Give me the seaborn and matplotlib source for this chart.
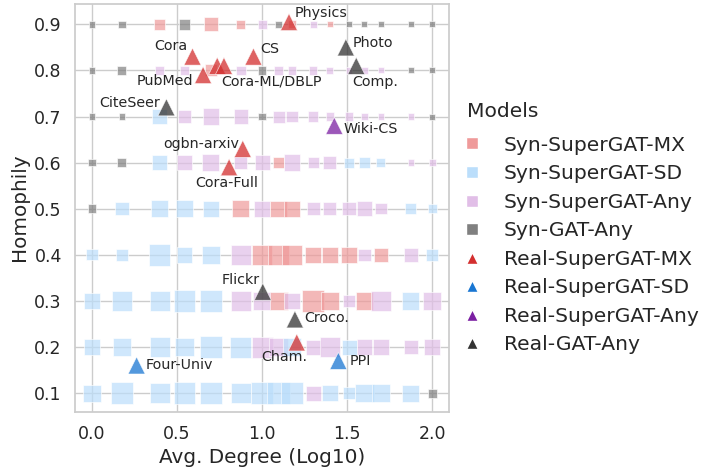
import numpy as np
import pandas as pd
import seaborn as sns
import matplotlib.pyplot as plt
from matplotlib.lines import Line2D

# Synthetic graphs: average degree (x, log10) and homophily rows
avg_degree = [1, 1.5, 2.5, 3.5, 5, 7.5, 10, 12.5, 15, 20, 25, 32.5, 40, 50, 75, 100]
homophily_levels = [0.9, 0.8, 0.7, 0.6, 0.5, 0.4, 0.3, 0.2, 0.1]

# Best model per synthetic graph (X=SuperGAT-MX, S=SuperGAT-SD, A=SuperGAT-Any, G=GAT-Any)
best_h09 = ["G", "G", "X", "G", "X", "X", "A", "G", "X", "A", "X", "G", "G", "G", "G", "G"]
best_h08 = ["G", "G", "A", "A", "X", "A", "G", "A", "A", "A", "A", "A", "A", "A", "G", "G"]
best_h07 = ["G", "G", "S", "A", "A", "A", "G", "A", "A", "A", "A", "A", "A", "A", "A", "G"]
best_h06 = ["G", "G", "S", "A", "A", "A", "A", "X", "A", "A", "A", "S", "S", "S", "A", "A"]
best_h05 = ["G", "S", "S", "S", "S", "X", "A", "X", "X", "A", "A", "A", "A", "A", "S", "S"]
best_h04 = ["S", "S", "S", "S", "S", "A", "X", "X", "X", "X", "X", "X", "A", "X", "A", "S"]
best_h03 = ["S", "S", "S", "S", "S", "A", "A", "X", "A", "X", "X", "A", "X", "A", "S", "A"]
best_h02 = ["S", "S", "S", "S", "S", "S", "A", "A", "S", "A", "A", "S", "A", "A", "A", "A"]
best_h01 = ["S", "S", "S", "S", "S", "S", "S", "S", "S", "A", "S", "S", "S", "S", "S", "G"]

# Performance margin of the best model (encoded by marker size)
gap_h09 = [18, 20, 28, 28, 38, 24, 24, 20, 22, 18, 16, 16, 16, 16, 16, 16]
gap_h08 = [18, 24, 24, 24, 32, 26, 22, 26, 22, 22, 18, 18, 18, 16, 16, 16]
gap_h07 = [18, 18, 40, 34, 44, 38, 20, 32, 30, 28, 22, 22, 20, 18, 18, 16]
gap_h06 = [20, 24, 40, 42, 46, 34, 40, 30, 44, 30, 34, 26, 30, 24, 18, 18]
gap_h05 = [24, 36, 46, 46, 42, 46, 44, 44, 42, 34, 36, 36, 40, 30, 30, 24]
gap_h04 = [30, 32, 58, 42, 50, 54, 54, 54, 52, 42, 44, 42, 34, 38, 36, 34]
gap_h03 = [42, 54, 54, 58, 58, 54, 50, 48, 44, 60, 48, 34, 48, 52, 46, 50]
gap_h02 = [42, 46, 54, 50, 60, 56, 56, 50, 46, 40, 54, 40, 42, 44, 36, 44]
gap_h01 = [46, 58, 54, 58, 60, 54, 60, 60, 60, 40, 44, 34, 50, 50, 46, 24]

# Real-world datasets
real_names = ["Physics", "Cora", "CS", "Cora-ML", "DBLP", "PubMed", "Photo", "Comp.",
              "CiteSeer", "Wiki-CS", "ogbn-arxiv", "Cora-Full", "Flickr", "Croco.",
              "Cham.", "Four-Univ", "PPI"]
real_labels = ["Physics", "Cora", "CS", "Cora-ML/DBLP", "", "PubMed", "Photo", "Comp.",
               "CiteSeer", "Wiki-CS", "ogbn-arxiv", "Cora-Full", "Flickr", "Croco.",
               "Cham.", "Four-Univ", "PPI"]
real_degree = [14.4, 3.9, 8.9, 5.45, 5.97, 4.5, 31.1, 35.8, 2.74, 26.6, 7.7, 6.4,
               10.1, 15.6, 16.0, 1.83, 28.1]
real_homophily = [0.905, 0.83, 0.83, 0.81, 0.81, 0.79, 0.85, 0.81, 0.72, 0.68, 0.63,
                  0.59, 0.32, 0.26, 0.21, 0.16, 0.17]
real_model = ["X", "X", "X", "X", "X", "X", "G", "G", "G", "A", "X", "X", "G", "G",
              "X", "S", "S"]

model_names = {"X": "SuperGAT-MX", "S": "SuperGAT-SD", "A": "SuperGAT-Any", "G": "GAT-Any"}
syn_colors = {"X": "#EF9A9A", "S": "#BBDEFB", "A": "#E1BEE7", "G": "#808080"}
real_colors = {"X": "#D32F2F", "S": "#1976D2", "A": "#7B1FA2", "G": "#333333"}

best_rows = [best_h09, best_h08, best_h07, best_h06, best_h05, best_h04, best_h03, best_h02, best_h01]
gap_rows = [gap_h09, gap_h08, gap_h07, gap_h06, gap_h05, gap_h04, gap_h03, gap_h02, gap_h01]

rows = []
for h, models, gaps in zip(homophily_levels, best_rows, gap_rows):
    for d, m, g in zip(avg_degree, models, gaps):
        rows.append({"deg": np.log10(d), "hom": h, "model": m, "gap": g})
syn = pd.DataFrame(rows)

real = pd.DataFrame({"name": real_names, "label": real_labels,
                     "deg": np.log10(real_degree), "hom": real_homophily,
                     "model": real_model})

sns.set_theme(style="whitegrid")
fig = plt.figure(figsize=(7.04, 4.67), dpi=100)
ax = fig.add_axes([0.1065, 0.1184, 0.5315, 0.8741])

# marker side ~ gap/3 px -> points
sizes = (syn["gap"] / 3 * 0.72 * 1.12) ** 2
sns.scatterplot(data=syn, x="deg", y="hom", hue="model", palette=syn_colors,
                marker="s", s=sizes, alpha=0.7, edgecolor="white", linewidth=0.6,
                legend=False, ax=ax)
sns.scatterplot(data=real, x="deg", y="hom", hue="model", palette=real_colors,
                marker="^", s=150, alpha=0.75, edgecolor="white", linewidth=0.5,
                legend=False, ax=ax, zorder=5)

# label offsets in pixels (dx, dy) and alignment
label_pos = {
    "Physics": (6, 9, "left"), "Cora": (-5, 11, "right"), "CS": (7, 8, "left"),
    "Cora-ML": (4, -16, "left"), "PubMed": (-10, -6, "right"), "Photo": (7, 4, "left"),
    "Comp.": (-4, -16, "left"), "CiteSeer": (-6, 4, "right"), "Wiki-CS": (9, -3, "left"),
    "ogbn-arxiv": (-4, 5, "right"), "Cora-Full": (-2, -16, "center"),
    "Flickr": (-3, 12, "right"), "Croco.": (9, 1, "left"), "Cham.": (-13, -15, "center"),
    "Four-Univ": (9, 0, "left"), "PPI": (11, 0, "left"),
}
for _, r in real.iterrows():
    if not r["label"]:
        continue
    dx, dy, ha = label_pos[r["name"]]
    ax.annotate(r["label"], (r["deg"], r["hom"]), xytext=(dx * 0.72, dy * 0.72),
                textcoords="offset points", ha=ha, va="center", fontsize=10.3,
                color="#262626", zorder=6)

ax.set_xlabel("Avg. Degree (Log10)", fontsize=14.4)
ax.set_ylabel("Homophily", fontsize=14.4)
ax.set_xticks([0.0, 0.5, 1.0, 1.5, 2.0])
ax.set_yticks(homophily_levels[::-1])
ax.tick_params(labelsize=12.5)

handles, labels = [], []
for code in ["X", "S", "A", "G"]:
    handles.append(Line2D([], [], marker="s", linestyle="", color=syn_colors[code],
                          markersize=8, markeredgecolor="white"))
    labels.append("Syn-" + model_names[code])
for code in ["X", "S", "A", "G"]:
    handles.append(Line2D([], [], marker="^", linestyle="", color=real_colors[code],
                          markersize=8, markeredgecolor="white"))
    labels.append("Real-" + model_names[code])
leg = ax.legend(handles, labels, title="Models", loc="center left",
                bbox_to_anchor=(1.0, 0.45), frameon=False, fontsize=14.6,
                title_fontsize=14.6, alignment="left", labelspacing=0.47,
                handlelength=0.46, handletextpad=1.35, borderpad=0.4)
leg._legend_box.sep = 0.73 * 14.6

fig.savefig("out.png", dpi=100)
